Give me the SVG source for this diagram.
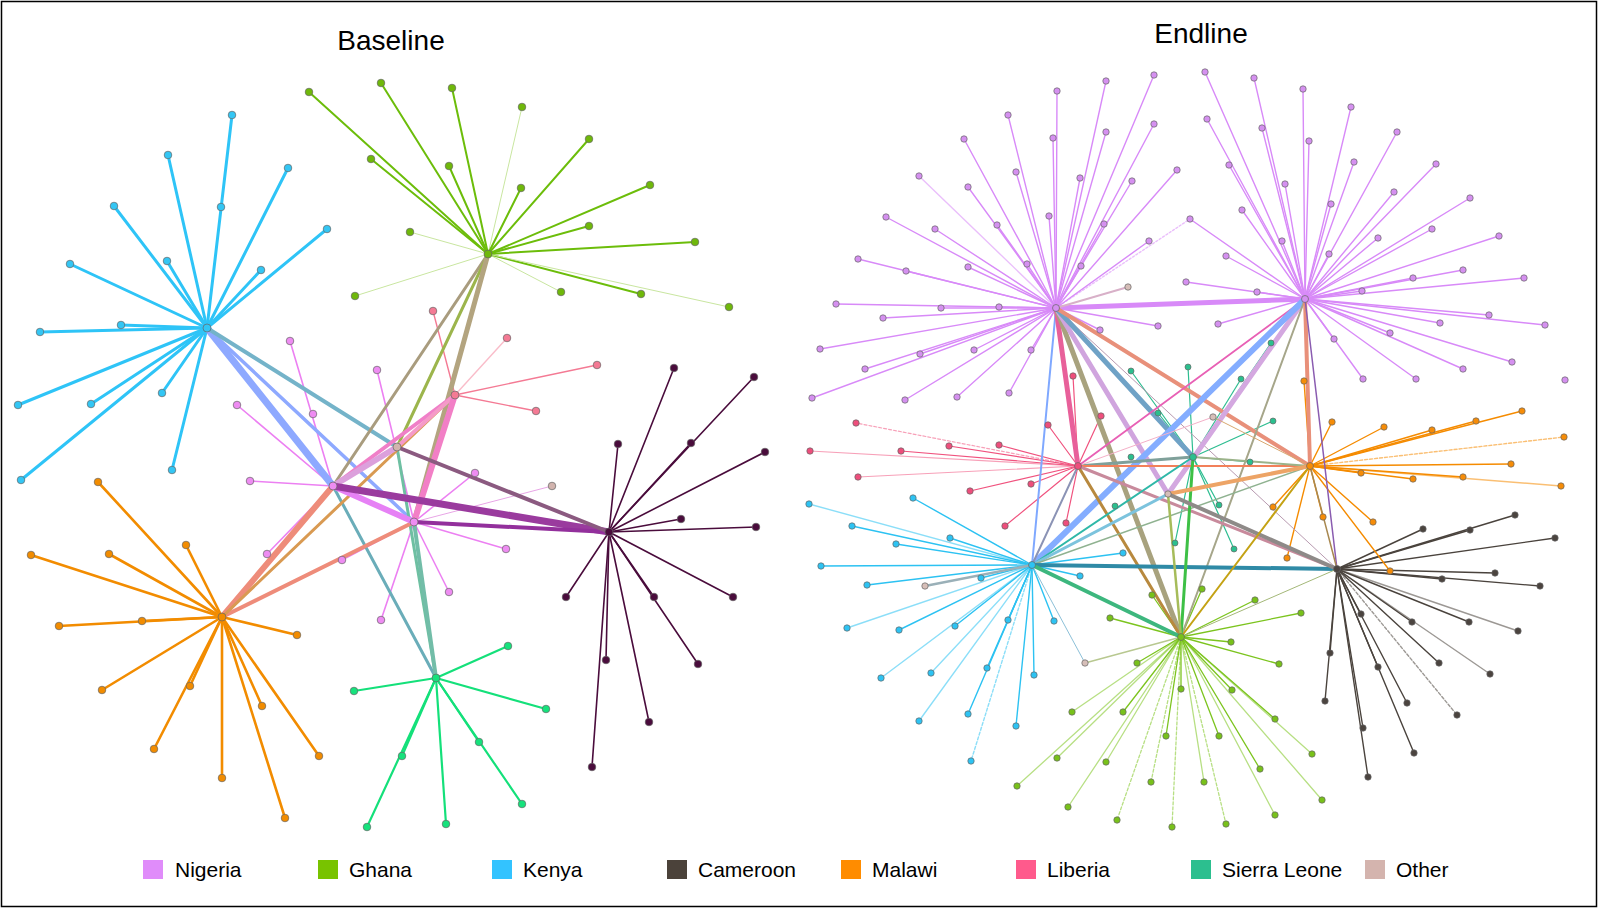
<svg xmlns="http://www.w3.org/2000/svg" width="1600" height="909" viewBox="0 0 1600 909">
<style>
text{font-family:"Liberation Sans",Arial,sans-serif;fill:#000}
.t{font-size:28px;text-anchor:middle}
.lg{font-size:21px}
line{stroke-linecap:round;fill:none}
circle{stroke:#666;stroke-width:.7}
.bk{stroke:#2EC4F7;stroke-width:3}
.bg{stroke:#6CBD0A;stroke-width:2}
.bgl{stroke:#C9E6A0;stroke-width:1}
.bn{stroke:#EC80F2;stroke-width:1.6}
.bl{stroke:#F47A94;stroke-width:1.4}
.bc{stroke:#4A0C3C;stroke-width:1.6}
.bs{stroke:#14E07A;stroke-width:2.2}
.bm{stroke:#F28C00;stroke-width:2.6}
.en{stroke:#D88AF8;stroke-width:1.4}
.eg{stroke:#7CC41E;stroke-width:1.3}
.ek{stroke:#2CC2F2;stroke-width:1.4}
.ec{stroke:#4A433D;stroke-width:1.4}
.em{stroke:#F58B00;stroke-width:1.4}
.el{stroke:#F0527E;stroke-width:1.2}
.es{stroke:#2DBD90;stroke-width:1.2}
.f{opacity:.55}
.nk{fill:#33C6F4}.ng{fill:#6FB80A}.nn{fill:#EE8CF2}.nl{fill:#F47A94}.nc{fill:#4A0C3C}.ns{fill:#16E27C}.nm{fill:#F28C00}.no{fill:#D2B4AE}
.Nn{fill:#D590F0}.Ng{fill:#78C11A}.Nk{fill:#2DC3F3}.Nc{fill:#4B443F}.Nm{fill:#F68C07}.Nl{fill:#EE4E7C}.Ns{fill:#2BBF8E}.No{fill:#D6BEB8}
</style>
<rect x="1.5" y="1.5" width="1595" height="905" fill="#fff" stroke="#000" stroke-width="1.5"/>
<text class="t" x="391" y="50">Baseline</text>
<text class="t" x="1201" y="43">Endline</text>

<g id="connectors">
<g id="baseline-edges">
<!-- Kenya leaves -->
<line class="bk" x1="207" y1="328" x2="232" y2="115"/>
<line class="bk" x1="207" y1="328" x2="168" y2="155" stroke-width="2.5"/>
<line class="bk" x1="207" y1="328" x2="288" y2="168"/>
<line class="bk" x1="207" y1="328" x2="114" y2="206"/>
<line class="bk" x1="207" y1="328" x2="327" y2="229" stroke-width="1"/>
<line class="bk" x1="207" y1="328" x2="167" y2="261" stroke-width="1"/>
<line class="bk" x1="207" y1="328" x2="261" y2="270"/>
<line class="bk" x1="207" y1="328" x2="70" y2="264"/>
<line class="bk" x1="207" y1="328" x2="121" y2="325"/>
<line class="bk" x1="207" y1="328" x2="40" y2="332" stroke-width="1"/>
<line class="bk" x1="207" y1="328" x2="18" y2="405"/>
<line class="bk" x1="207" y1="328" x2="91" y2="404" stroke-width="1"/>
<line class="bk" x1="207" y1="328" x2="162" y2="393" stroke-width="2"/>
<line class="bk" x1="207" y1="328" x2="21" y2="480"/>
<line class="bk" x1="207" y1="328" x2="172" y2="470" stroke-width="2.5"/>
<!-- Ghana leaves -->
<line class="bg" x1="488" y1="254" x2="309" y2="92" stroke-width="1.2"/>
<line class="bg" x1="488" y1="254" x2="381" y2="83" stroke-width="3"/>
<line class="bg" x1="488" y1="254" x2="452" y2="88" stroke-width="1.4"/>
<line class="bgl" x1="488" y1="254" x2="522" y2="107"/>
<line class="bg" x1="488" y1="254" x2="589" y2="139" stroke-width="1.4"/>
<line class="bg" x1="488" y1="254" x2="371" y2="159" stroke-width="3.5"/>
<line class="bg" x1="488" y1="254" x2="449" y2="166"/>
<line class="bg" x1="488" y1="254" x2="521" y2="188"/>
<line class="bg" x1="488" y1="254" x2="650" y2="185" stroke-width="1.5"/>
<line class="bg" x1="488" y1="254" x2="589" y2="226"/>
<line class="bg" x1="488" y1="254" x2="695" y2="242"/>
<line class="bgl" x1="488" y1="254" x2="410" y2="232"/>
<line class="bgl" x1="488" y1="254" x2="355" y2="296"/>
<line class="bgl" x1="488" y1="254" x2="561" y2="292"/>
<line class="bg" x1="488" y1="254" x2="641" y2="294"/>
<line class="bgl" x1="488" y1="254" x2="729" y2="307"/>
<!-- Liberia leaves -->
<line class="bl" x1="455" y1="395" x2="433" y2="311" stroke-width="1.2"/>
<line class="bl" x1="455" y1="395" x2="507" y2="338" stroke-width=".8" opacity=".5"/>
<line class="bl" x1="455" y1="395" x2="597" y2="365"/>
<line class="bl" x1="455" y1="395" x2="536" y2="411"/>
<!-- Nigeria leaves -->
<line class="bn" x1="333" y1="486" x2="290" y2="341"/>
<line class="bn" x1="333" y1="486" x2="237" y2="405" stroke-width="2"/>
<line class="bn" x1="333" y1="486" x2="250" y2="481" stroke-width="2"/>
<line class="bn" x1="333" y1="486" x2="267" y2="554"/>
<line class="bn" x1="414" y1="522" x2="377" y2="370"/>
<line class="bn" x1="414" y1="522" x2="475" y2="473" stroke-width="2"/>
<line class="bn" x1="414" y1="522" x2="506" y2="549" stroke-width="1"/>
<line class="bn" x1="414" y1="522" x2="449" y2="592" stroke-width="1.4"/>
<line class="bn" x1="414" y1="522" x2="381" y2="620" stroke-width="1.4"/>
<line class="bn" x1="414" y1="522" x2="342" y2="560"/>
<line x1="414" y1="522" x2="552" y2="486" stroke="#E8A5E6" stroke-width="1"/>
<!-- Cameroon leaves -->
<line class="bc" x1="609" y1="532" x2="674" y2="368"/>
<line class="bc" x1="609" y1="532" x2="754" y2="377" stroke-width="1"/>
<line class="bc" x1="609" y1="532" x2="691" y2="443" stroke-width="2"/>
<line class="bc" x1="609" y1="532" x2="618" y2="444"/>
<line class="bc" x1="609" y1="532" x2="765" y2="452" stroke-width="3"/>
<line class="bc" x1="609" y1="532" x2="681" y2="519" stroke-width="2"/>
<line class="bc" x1="609" y1="532" x2="756" y2="527"/>
<line class="bc" x1="609" y1="532" x2="566" y2="597" stroke-width="2"/>
<line class="bc" x1="609" y1="532" x2="654" y2="597"/>
<line class="bc" x1="609" y1="532" x2="733" y2="597" stroke-width="2"/>
<line class="bc" x1="609" y1="532" x2="606" y2="660"/>
<line class="bc" x1="609" y1="532" x2="698" y2="664"/>
<line class="bc" x1="609" y1="532" x2="649" y2="722"/>
<line class="bc" x1="609" y1="532" x2="592" y2="767"/>
<!-- Sierra Leone leaves -->
<line class="bs" x1="436" y1="678" x2="508" y2="646" stroke-width="2.5"/>
<line class="bs" x1="436" y1="678" x2="354" y2="691" stroke-width="1.5"/>
<line class="bs" x1="436" y1="678" x2="546" y2="709" stroke-width="3"/>
<line class="bs" x1="436" y1="678" x2="479" y2="742" stroke-width="2.5"/>
<line class="bs" x1="436" y1="678" x2="522" y2="804" stroke-width="1.5"/>
<line class="bs" x1="436" y1="678" x2="402" y2="756" stroke-width="2.5"/>
<line class="bs" x1="436" y1="678" x2="367" y2="827"/>
<line class="bs" x1="436" y1="678" x2="446" y2="824" stroke-width="1.5"/>
<!-- Malawi leaves -->
<line class="bm" x1="222" y1="617" x2="98" y2="482" stroke-width="3"/>
<line class="bm" x1="222" y1="617" x2="186" y2="545" stroke-width="2"/>
<line class="bm" x1="222" y1="617" x2="31" y2="555" stroke-width="3"/>
<line class="bm" x1="222" y1="617" x2="109" y2="554" stroke-width="3"/>
<line class="bm" x1="222" y1="617" x2="59" y2="626"/>
<line class="bm" x1="222" y1="617" x2="142" y2="621"/>
<line class="bm" x1="222" y1="617" x2="297" y2="635" stroke-width="3"/>
<line class="bm" x1="222" y1="617" x2="102" y2="690"/>
<line class="bm" x1="222" y1="617" x2="190" y2="686" stroke-width="3"/>
<line class="bm" x1="222" y1="617" x2="154" y2="749"/>
<line class="bm" x1="222" y1="617" x2="262" y2="706" stroke-width="2"/>
<line class="bm" x1="222" y1="617" x2="222" y2="778" stroke-width="2"/>
<line class="bm" x1="222" y1="617" x2="319" y2="756" stroke-width="3"/>
<line class="bm" x1="222" y1="617" x2="285" y2="818" stroke-width="1.5"/>
<!-- inter-country baseline -->
<line x1="207" y1="328" x2="414" y2="522" stroke="#8EA9FF" stroke-width="3.5"/>
<line x1="207" y1="328" x2="333" y2="486" stroke="#8EA9FF" stroke-width="7"/>
<line x1="207" y1="328" x2="397" y2="447" stroke="#74B3C9" stroke-width="4"/>
<line x1="333" y1="486" x2="436" y2="678" stroke="#6AADB9" stroke-width="3"/>
<line x1="397" y1="447" x2="436" y2="678" stroke="#6EC0A2" stroke-width="3"/>
<line x1="414" y1="522" x2="436" y2="678" stroke="#72BDA8" stroke-width="4"/>
<line x1="222" y1="617" x2="333" y2="486" stroke="#EE8C7A" stroke-width="6"/>
<line x1="222" y1="617" x2="414" y2="522" stroke="#EE8C7A" stroke-width="4"/>
<line x1="222" y1="617" x2="455" y2="395" stroke="#D99A52" stroke-width="3"/>
<line x1="488" y1="254" x2="333" y2="486" stroke="#A99C7E" stroke-width="3"/>
<line x1="488" y1="254" x2="397" y2="447" stroke="#9CB54C" stroke-width="3"/>
<line x1="488" y1="254" x2="414" y2="522" stroke="#B3A47F" stroke-width="5"/>
<line x1="333" y1="486" x2="455" y2="395" stroke="#F07FC8" stroke-width="4"/>
<line x1="397" y1="447" x2="455" y2="395" stroke="#F59AC8" stroke-width="4"/>
<line x1="333" y1="486" x2="397" y2="447" stroke="#DCA0DC" stroke-width="6"/>
<line x1="455" y1="395" x2="414" y2="522" stroke="#F27FC6" stroke-width="6"/>
<line x1="333" y1="486" x2="414" y2="522" stroke="#E681F5" stroke-width="6"/>
<line x1="333" y1="486" x2="609" y2="532" stroke="#9A3B9E" stroke-width="7"/>
<line x1="414" y1="522" x2="609" y2="532" stroke="#93309C" stroke-width="4"/>
<line x1="397" y1="447" x2="609" y2="532" stroke="#8B5A80" stroke-width="4"/>
</g>

<g id="endline-edges">
<!-- Nigeria A leaves -->
<line class="en" x1="1056" y1="308" x2="1154" y2="75"/>
<line class="en" x1="1056" y1="308" x2="1106" y2="81"/>
<line class="en" x1="1056" y1="308" x2="1057" y2="91"/>
<line class="en" x1="1056" y1="308" x2="1008" y2="115"/>
<line class="en" x1="1056" y1="308" x2="1154" y2="124"/>
<line class="en" x1="1056" y1="308" x2="1106" y2="132"/>
<line class="en" x1="1056" y1="308" x2="1053" y2="138"/>
<line class="en" x1="1056" y1="308" x2="964" y2="139"/>
<line class="en" x1="1056" y1="308" x2="1177" y2="170"/>
<line class="en" x1="1056" y1="308" x2="1016" y2="172"/>
<line class="en" x1="1056" y1="308" x2="1080" y2="178"/>
<line class="en" x1="1056" y1="308" x2="1132" y2="181"/>
<line class="en f" x1="1056" y1="308" x2="919" y2="176" stroke-width="1"/>
<line class="en" x1="1056" y1="308" x2="968" y2="187"/>
<line class="en" x1="1056" y1="308" x2="1049" y2="216"/>
<line class="en" x1="1056" y1="308" x2="1104" y2="224"/>
<line class="en" x1="1056" y1="308" x2="997" y2="225"/>
<line class="en" x1="1056" y1="308" x2="886" y2="217"/>
<line class="en" x1="1056" y1="308" x2="935" y2="229"/>
<line class="en" x1="1056" y1="308" x2="1149" y2="241"/>
<line class="en f" x1="1056" y1="308" x2="1190" y2="219" stroke-dasharray="2 2"/>
<line class="en" x1="1056" y1="308" x2="858" y2="259"/>
<line class="en" x1="1056" y1="308" x2="906" y2="271"/>
<line class="en" x1="1056" y1="308" x2="968" y2="267"/>
<line class="en" x1="1056" y1="308" x2="1027" y2="264"/>
<line class="en" x1="1056" y1="308" x2="1081" y2="266"/>
<line class="en" x1="1056" y1="308" x2="836" y2="304"/>
<line class="en" x1="1056" y1="308" x2="941" y2="308" stroke-width="3"/>
<line class="en" x1="1056" y1="308" x2="999" y2="307"/>
<line class="en" x1="1056" y1="308" x2="883" y2="318"/>
<line class="en" x1="1056" y1="308" x2="1158" y2="326"/>
<line class="en" x1="1056" y1="308" x2="1100" y2="330"/>
<line class="en" x1="1056" y1="308" x2="820" y2="349"/>
<line class="en" x1="1056" y1="308" x2="920" y2="354"/>
<line class="en" x1="1056" y1="308" x2="974" y2="350"/>
<line class="en" x1="1056" y1="308" x2="1031" y2="350"/>
<line class="en" x1="1056" y1="308" x2="865" y2="369"/>
<line class="en" x1="1056" y1="308" x2="812" y2="398"/>
<line class="en" x1="1056" y1="308" x2="905" y2="400"/>
<line class="en" x1="1056" y1="308" x2="957" y2="397"/>
<line class="en" x1="1056" y1="308" x2="1009" y2="393"/>
<!-- Nigeria B leaves -->
<line class="en" x1="1305" y1="299" x2="1205" y2="72"/>
<line class="en" x1="1305" y1="299" x2="1254" y2="78"/>
<line class="en" x1="1305" y1="299" x2="1303" y2="89"/>
<line class="en" x1="1305" y1="299" x2="1351" y2="107"/>
<line class="en" x1="1305" y1="299" x2="1397" y2="132"/>
<line class="en" x1="1305" y1="299" x2="1207" y2="119"/>
<line class="en" x1="1305" y1="299" x2="1262" y2="128"/>
<line class="en" x1="1305" y1="299" x2="1309" y2="141"/>
<line class="en" x1="1305" y1="299" x2="1354" y2="162"/>
<line class="en" x1="1305" y1="299" x2="1436" y2="164"/>
<line class="en" x1="1305" y1="299" x2="1229" y2="165"/>
<line class="en" x1="1305" y1="299" x2="1285" y2="184"/>
<line class="en" x1="1305" y1="299" x2="1394" y2="192"/>
<line class="en" x1="1305" y1="299" x2="1470" y2="198"/>
<line class="en" x1="1305" y1="299" x2="1331" y2="204"/>
<line class="en" x1="1305" y1="299" x2="1242" y2="210"/>
<line class="en" x1="1305" y1="299" x2="1190" y2="219"/>
<line class="en" x1="1305" y1="299" x2="1432" y2="229"/>
<line class="en" x1="1305" y1="299" x2="1378" y2="238"/>
<line class="en" x1="1305" y1="299" x2="1499" y2="236"/>
<line class="en" x1="1305" y1="299" x2="1282" y2="241"/>
<line class="en" x1="1305" y1="299" x2="1329" y2="254"/>
<line class="en" x1="1305" y1="299" x2="1226" y2="256"/>
<line class="en" x1="1305" y1="299" x2="1463" y2="270"/>
<line class="en" x1="1305" y1="299" x2="1413" y2="278" stroke-width="2"/>
<line class="en" x1="1305" y1="299" x2="1524" y2="278"/>
<line class="en" x1="1305" y1="299" x2="1186" y2="282"/>
<line class="en" x1="1305" y1="299" x2="1257" y2="292"/>
<line class="en" x1="1305" y1="299" x2="1362" y2="291"/>
<line class="en" x1="1305" y1="299" x2="1489" y2="315"/>
<line class="en" x1="1305" y1="299" x2="1440" y2="323"/>
<line class="en" x1="1305" y1="299" x2="1545" y2="325"/>
<line class="en" x1="1305" y1="299" x2="1390" y2="333"/>
<line class="en" x1="1305" y1="299" x2="1218" y2="324"/>
<line class="en" x1="1305" y1="299" x2="1334" y2="339"/>
<line class="en" x1="1305" y1="299" x2="1512" y2="362"/>
<line class="en" x1="1305" y1="299" x2="1463" y2="369"/>
<line class="en" x1="1305" y1="299" x2="1363" y2="379"/>
<line class="en" x1="1305" y1="299" x2="1416" y2="379"/>
<!-- Liberia leaves -->
<line class="el" x1="1078" y1="466" x2="1073" y2="376" stroke-width="2"/>
<line class="el" x1="1078" y1="466" x2="1101" y2="416" stroke-width="2"/>
<line class="el" x1="1078" y1="466" x2="1048" y2="425" stroke-width="2"/>
<line class="el f" x1="1078" y1="466" x2="856" y2="423" stroke-dasharray="3 2"/>
<line class="el f" x1="1078" y1="466" x2="810" y2="451"/>
<line class="el" x1="1078" y1="466" x2="901" y2="451"/>
<line class="el" x1="1078" y1="466" x2="949" y2="446"/>
<line class="el" x1="1078" y1="466" x2="999" y2="445"/>
<line class="el f" x1="1078" y1="466" x2="858" y2="477"/>
<line class="el" x1="1078" y1="466" x2="1031" y2="484"/>
<line class="el" x1="1078" y1="466" x2="970" y2="491"/>
<line class="el" x1="1078" y1="466" x2="1005" y2="526" stroke-width="2"/>
<line class="el" x1="1078" y1="466" x2="1066" y2="523" stroke-width="2"/>
<!-- Kenya leaves -->
<line class="ek" x1="1032" y1="565" x2="913" y2="498" stroke-width="2.2"/>
<line class="ek f" x1="1032" y1="565" x2="809" y2="504"/>
<line class="ek" x1="1032" y1="565" x2="852" y2="526" stroke-width="2"/>
<line class="ek" x1="1032" y1="565" x2="950" y2="538"/>
<line class="ek" x1="1032" y1="565" x2="896" y2="544" stroke-width="2"/>
<line class="ek" x1="1032" y1="565" x2="1123" y2="553" stroke-width="2.5"/>
<line class="ek" x1="1032" y1="565" x2="821" y2="566"/>
<line class="ek" x1="1032" y1="565" x2="1080" y2="576" stroke-width="2"/>
<line class="ek" x1="1032" y1="565" x2="867" y2="585"/>
<line class="ek" x1="1032" y1="565" x2="981" y2="578"/>
<line class="ek f" x1="1032" y1="565" x2="847" y2="628"/>
<line class="ek" x1="1032" y1="565" x2="899" y2="630"/>
<line class="ek" x1="1032" y1="565" x2="955" y2="626" stroke-width="2"/>
<line class="ek" x1="1032" y1="565" x2="1008" y2="620"/>
<line class="ek" x1="1032" y1="565" x2="1054" y2="621" stroke-width="2"/>
<line class="ek f" x1="1032" y1="565" x2="881" y2="678"/>
<line class="ek f" x1="1032" y1="565" x2="931" y2="673"/>
<line class="ek" x1="1032" y1="565" x2="987" y2="668" stroke-width="2"/>
<line class="ek" x1="1032" y1="565" x2="1034" y2="675" stroke-width="2"/>
<line class="ek" x1="1032" y1="565" x2="968" y2="714" stroke-width="2"/>
<line class="ek" x1="1032" y1="565" x2="1016" y2="726" stroke-width="2"/>
<line class="ek f" x1="1032" y1="565" x2="971" y2="761" stroke-dasharray="3 2"/>
<line class="ek f" x1="1032" y1="565" x2="919" y2="721"/>
<!-- Ghana leaves -->
<line class="eg" x1="1181" y1="637" x2="1152" y2="595" stroke-width="2"/>
<line class="eg" x1="1181" y1="637" x2="1202" y2="589" stroke-width="2"/>
<line class="eg" x1="1181" y1="637" x2="1110" y2="618" stroke-width="2"/>
<line class="eg" x1="1181" y1="637" x2="1255" y2="600" stroke-width="2"/>
<line class="eg" x1="1181" y1="637" x2="1301" y2="613" stroke-width="2"/>
<line class="eg" x1="1181" y1="637" x2="1231" y2="642"/>
<line class="eg" x1="1181" y1="637" x2="1279" y2="664"/>
<line class="eg" x1="1181" y1="637" x2="1137" y2="663"/>
<line class="eg" x1="1181" y1="637" x2="1181" y2="689"/>
<line class="eg" x1="1181" y1="637" x2="1232" y2="690"/>
<line class="eg f" x1="1181" y1="637" x2="1072" y2="712"/>
<line class="eg" x1="1181" y1="637" x2="1123" y2="712"/>
<line class="eg" x1="1181" y1="637" x2="1275" y2="719" stroke-width="2"/>
<line class="eg" x1="1181" y1="637" x2="1166" y2="736"/>
<line class="eg" x1="1181" y1="637" x2="1219" y2="736"/>
<line class="eg f" x1="1181" y1="637" x2="1312" y2="754"/>
<line class="eg f" x1="1181" y1="637" x2="1057" y2="758"/>
<line class="eg f" x1="1181" y1="637" x2="1106" y2="762"/>
<line class="eg" x1="1181" y1="637" x2="1260" y2="769"/>
<line class="eg f" x1="1181" y1="637" x2="1017" y2="786"/>
<line class="eg f" x1="1181" y1="637" x2="1151" y2="782" stroke-dasharray="3 2"/>
<line class="eg f" x1="1181" y1="637" x2="1204" y2="782"/>
<line class="eg f" x1="1181" y1="637" x2="1322" y2="800"/>
<line class="eg f" x1="1181" y1="637" x2="1068" y2="807"/>
<line class="eg f" x1="1181" y1="637" x2="1275" y2="815"/>
<line class="eg f" x1="1181" y1="637" x2="1117" y2="820" stroke-dasharray="3 2"/>
<line class="eg f" x1="1181" y1="637" x2="1172" y2="827" stroke-dasharray="3 2"/>
<line class="eg f" x1="1181" y1="637" x2="1226" y2="824" stroke-dasharray="3 2"/>
<!-- Cameroon leaves -->
<line class="ec" x1="1337" y1="569" x2="1423" y2="529" stroke-width="2"/>
<line class="ec" x1="1337" y1="569" x2="1470" y2="530" stroke-width="2"/>
<line class="ec" x1="1337" y1="569" x2="1515" y2="515" stroke-width="2"/>
<line class="ec" x1="1337" y1="569" x2="1555" y2="538"/>
<line class="ec" x1="1337" y1="569" x2="1442" y2="579" stroke-width="2"/>
<line class="ec" x1="1337" y1="569" x2="1495" y2="573"/>
<line class="ec" x1="1337" y1="569" x2="1540" y2="586"/>
<line class="ec" x1="1337" y1="569" x2="1361" y2="614"/>
<line class="ec" x1="1337" y1="569" x2="1412" y2="622" stroke-width="2"/>
<line class="ec" x1="1337" y1="569" x2="1469" y2="622"/>
<line class="ec f" x1="1337" y1="569" x2="1518" y2="631"/>
<line class="ec" x1="1337" y1="569" x2="1439" y2="663" stroke-width="2"/>
<line class="ec f" x1="1337" y1="569" x2="1490" y2="674"/>
<line class="ec" x1="1337" y1="569" x2="1330" y2="653"/>
<line class="ec" x1="1337" y1="569" x2="1325" y2="701" stroke-width="2"/>
<line class="ec" x1="1337" y1="569" x2="1378" y2="667"/>
<line class="ec" x1="1337" y1="569" x2="1407" y2="703"/>
<line class="ec f" x1="1337" y1="569" x2="1457" y2="715" stroke-dasharray="3 2"/>
<line class="ec" x1="1337" y1="569" x2="1363" y2="728" stroke-width="2"/>
<line class="ec" x1="1337" y1="569" x2="1414" y2="753"/>
<line class="ec" x1="1337" y1="569" x2="1368" y2="777"/>
<!-- Malawi leaves -->
<line class="em" x1="1310" y1="466" x2="1304" y2="381" stroke-width="2"/>
<line class="em" x1="1310" y1="466" x2="1332" y2="422" stroke-width="2"/>
<line class="em" x1="1310" y1="466" x2="1384" y2="427" stroke-width="2"/>
<line class="em" x1="1310" y1="466" x2="1432" y2="430" stroke-width="2.5"/>
<line class="em" x1="1310" y1="466" x2="1476" y2="421" stroke-width="2"/>
<line class="em" x1="1310" y1="466" x2="1522" y2="411"/>
<line class="em f" x1="1310" y1="466" x2="1564" y2="437" stroke-dasharray="3 2"/>
<line class="em" x1="1310" y1="466" x2="1511" y2="464" stroke-width="2"/>
<line class="em" x1="1310" y1="466" x2="1361" y2="473"/>
<line class="em" x1="1310" y1="466" x2="1413" y2="479"/>
<line class="em" x1="1310" y1="466" x2="1463" y2="477"/>
<line class="em f" x1="1310" y1="466" x2="1561" y2="486"/>
<line class="em" x1="1310" y1="466" x2="1373" y2="522"/>
<line class="em" x1="1310" y1="466" x2="1273" y2="507" stroke-width="2"/>
<line class="em" x1="1310" y1="466" x2="1287" y2="558" stroke-width="2"/>
<line class="em" x1="1310" y1="466" x2="1323" y2="517"/>
<line class="em" x1="1310" y1="466" x2="1390" y2="571" stroke-width="2"/>
<!-- Sierra Leone leaves -->
<line class="es" x1="1193" y1="457" x2="1188" y2="367"/>
<line class="es" x1="1193" y1="457" x2="1241" y2="379"/>
<line class="es" x1="1193" y1="457" x2="1273" y2="421" stroke-width="2"/>
<line class="es" x1="1193" y1="457" x2="1250" y2="462"/>
<line class="es" x1="1193" y1="457" x2="1219" y2="505"/>
<line class="es" x1="1193" y1="457" x2="1234" y2="549"/>
<line class="es" x1="1193" y1="457" x2="1175" y2="543"/>
<line class="es" x1="1193" y1="457" x2="1158" y2="413"/>
<line class="es" x1="1193" y1="457" x2="1131" y2="371"/>
<line class="es" x1="1193" y1="457" x2="1271" y2="343"/>
<!-- inter-country endline -->
<line x1="1056" y1="308" x2="1305" y2="299" stroke="#D88AF8" stroke-width="5"/>
<line x1="1056" y1="308" x2="1128" y2="287" stroke="#D8B0C8" stroke-width="2"/>
<line x1="1056" y1="308" x2="1337" y2="569" stroke="#B89AB0" stroke-width="1"/>
<line x1="1056" y1="308" x2="1032" y2="565" stroke="#7FA8FF" stroke-width="2"/>
<line x1="1056" y1="308" x2="1078" y2="466" stroke="#E8609A" stroke-width="5"/>
<line x1="1056" y1="308" x2="1181" y2="637" stroke="#A8A27E" stroke-width="5"/>
<line x1="1056" y1="308" x2="1168" y2="494" stroke="#D0A4DE" stroke-width="5"/>
<line x1="1056" y1="308" x2="1193" y2="457" stroke="#6FA2C6" stroke-width="5"/>
<line x1="1056" y1="308" x2="1310" y2="466" stroke="#E8907A" stroke-width="4"/>
<line x1="1305" y1="299" x2="1078" y2="466" stroke="#E860B5" stroke-width="1.8"/>
<line x1="1305" y1="299" x2="1168" y2="494" stroke="#D4A8E0" stroke-width="5"/>
<line x1="1305" y1="299" x2="1032" y2="565" stroke="#84ADFF" stroke-width="6"/>
<line x1="1305" y1="299" x2="1181" y2="637" stroke="#A6A68A" stroke-width="2"/>
<line x1="1305" y1="299" x2="1310" y2="466" stroke="#E8907A" stroke-width="4"/>
<line x1="1305" y1="299" x2="1337" y2="569" stroke="#8A5CB0" stroke-width="1.5"/>
<line x1="1078" y1="466" x2="1193" y2="457" stroke="#7FA09A" stroke-width="3"/>
<line x1="1078" y1="466" x2="1310" y2="466" stroke="#F2805A" stroke-width="2"/>
<line x1="1078" y1="466" x2="1337" y2="569" stroke="#C88A9C" stroke-width="3"/>
<line x1="1078" y1="466" x2="1181" y2="637" stroke="#B8893E" stroke-width="3"/>
<line x1="1078" y1="466" x2="1032" y2="565" stroke="#8B93B5" stroke-width="2"/>
<line x1="1078" y1="466" x2="1213" y2="417" stroke="#F4B0C8" stroke-width="1"/>
<line x1="1213" y1="417" x2="1310" y2="466" stroke="#D8A870" stroke-width="1"/>
<line x1="1032" y1="565" x2="1193" y2="457" stroke="#2FB8A8" stroke-width="2"/>
<line x1="1032" y1="565" x2="1168" y2="494" stroke="#7CC3DD" stroke-width="3"/>
<line x1="1032" y1="565" x2="1310" y2="466" stroke="#8FB290" stroke-width="1.5"/>
<line x1="1032" y1="565" x2="1337" y2="569" stroke="#2F8AA6" stroke-width="4"/>
<line x1="1032" y1="565" x2="1181" y2="637" stroke="#3DB77E" stroke-width="4"/>
<line x1="1032" y1="565" x2="925" y2="586" stroke="#9AB0B8" stroke-width="2.5"/>
<line x1="1032" y1="565" x2="1085" y2="663" stroke="#8CC0D8" stroke-width="1"/>
<line x1="1085" y1="663" x2="1181" y2="637" stroke="#B8C890" stroke-width="1.5"/>
<line x1="1193" y1="457" x2="1181" y2="637" stroke="#3EC046" stroke-width="3"/>
<line x1="1193" y1="457" x2="1310" y2="466" stroke="#9BB38A" stroke-width="2"/>
<line x1="1168" y1="494" x2="1310" y2="466" stroke="#EDA466" stroke-width="4"/>
<line x1="1168" y1="494" x2="1181" y2="637" stroke="#A6BC5A" stroke-width="2.5"/>
<line x1="1168" y1="494" x2="1337" y2="569" stroke="#8E8A88" stroke-width="4"/>
<line x1="1310" y1="466" x2="1181" y2="637" stroke="#C4A214" stroke-width="2"/>
<line x1="1310" y1="466" x2="1337" y2="569" stroke="#A88850" stroke-width="1.5"/>
<line x1="1337" y1="569" x2="1181" y2="637" stroke="#A4B878" stroke-width="1"/>
</g>
</g>

<g id="baseline-nodes">
<g id="b-kenya"><circle class="nk" cx="207" cy="328" r="4"/></g>
<g id="b-k1"><circle class="nk" cx="232" cy="115" r="3.8"/></g>
<g id="b-k2"><circle class="nk" cx="221" cy="207" r="3.8"/></g>
<g id="b-k3"><circle class="nk" cx="168" cy="155" r="3.8"/></g>
<g id="b-k4"><circle class="nk" cx="288" cy="168" r="3.8"/></g>
<g id="b-k5"><circle class="nk" cx="114" cy="206" r="3.8"/></g>
<g id="b-k6"><circle class="nk" cx="327" cy="229" r="3.8"/></g>
<g id="b-k7"><circle class="nk" cx="167" cy="261" r="3.8"/></g>
<g id="b-k8"><circle class="nk" cx="261" cy="270" r="3.8"/></g>
<g id="b-k9"><circle class="nk" cx="70" cy="264" r="3.8"/></g>
<g id="b-k10"><circle class="nk" cx="121" cy="325" r="3.8"/></g>
<g id="b-k11"><circle class="nk" cx="40" cy="332" r="3.8"/></g>
<g id="b-k12"><circle class="nk" cx="18" cy="405" r="3.8"/></g>
<g id="b-k13"><circle class="nk" cx="91" cy="404" r="3.8"/></g>
<g id="b-k14"><circle class="nk" cx="162" cy="393" r="3.8"/></g>
<g id="b-k15"><circle class="nk" cx="21" cy="480" r="3.8"/></g>
<g id="b-k16"><circle class="nk" cx="172" cy="470" r="3.8"/></g>
<g id="b-ghana"><circle class="ng" cx="488" cy="254" r="4"/></g>
<g id="b-g1"><circle class="ng" cx="309" cy="92" r="3.8"/></g>
<g id="b-g2"><circle class="ng" cx="381" cy="83" r="3.8"/></g>
<g id="b-g3"><circle class="ng" cx="452" cy="88" r="3.8"/></g>
<g id="b-g4"><circle class="ng" cx="522" cy="107" r="3.8"/></g>
<g id="b-g5"><circle class="ng" cx="589" cy="139" r="3.8"/></g>
<g id="b-g6"><circle class="ng" cx="371" cy="159" r="3.8"/></g>
<g id="b-g7"><circle class="ng" cx="449" cy="166" r="3.8"/></g>
<g id="b-g8"><circle class="ng" cx="521" cy="188" r="3.8"/></g>
<g id="b-g9"><circle class="ng" cx="650" cy="185" r="3.8"/></g>
<g id="b-g10"><circle class="ng" cx="589" cy="226" r="3.8"/></g>
<g id="b-g11"><circle class="ng" cx="695" cy="242" r="3.8"/></g>
<g id="b-g12"><circle class="ng" cx="410" cy="232" r="3.8"/></g>
<g id="b-g13"><circle class="ng" cx="355" cy="296" r="3.8"/></g>
<g id="b-g14"><circle class="ng" cx="561" cy="292" r="3.8"/></g>
<g id="b-g15"><circle class="ng" cx="641" cy="294" r="3.8"/></g>
<g id="b-g16"><circle class="ng" cx="729" cy="307" r="3.8"/></g>
<g id="b-liberia"><circle class="nl" cx="455" cy="395" r="4"/></g>
<g id="b-l1"><circle class="nl" cx="433" cy="311" r="3.8"/></g>
<g id="b-l2"><circle class="nl" cx="507" cy="338" r="3.8"/></g>
<g id="b-l3"><circle class="nl" cx="597" cy="365" r="3.8"/></g>
<g id="b-l4"><circle class="nl" cx="536" cy="411" r="3.8"/></g>
<g id="b-other1"><circle class="no" cx="397" cy="447" r="4"/></g>
<g id="b-other2"><circle class="no" cx="552" cy="486" r="3.8"/></g>
<g id="b-nigeria1"><circle class="nn" cx="333" cy="486" r="4"/></g>
<g id="b-nigeria2"><circle class="nn" cx="414" cy="522" r="4"/></g>
<g id="b-n1"><circle class="nn" cx="290" cy="341" r="3.8"/></g>
<g id="b-n2"><circle class="nn" cx="313" cy="414" r="3.8"/></g>
<g id="b-n3"><circle class="nn" cx="237" cy="405" r="3.8"/></g>
<g id="b-n4"><circle class="nn" cx="250" cy="481" r="3.8"/></g>
<g id="b-n5"><circle class="nn" cx="267" cy="554" r="3.8"/></g>
<g id="b-n6"><circle class="nn" cx="377" cy="370" r="3.8"/></g>
<g id="b-n7"><circle class="nn" cx="475" cy="473" r="3.8"/></g>
<g id="b-n8"><circle class="nn" cx="506" cy="549" r="3.8"/></g>
<g id="b-n9"><circle class="nn" cx="449" cy="592" r="3.8"/></g>
<g id="b-n10"><circle class="nn" cx="381" cy="620" r="3.8"/></g>
<g id="b-n11"><circle class="nn" cx="342" cy="560" r="3.8"/></g>
<g id="b-cameroon"><circle class="nc" cx="609" cy="532" r="4"/></g>
<g id="b-c1"><circle class="nc" cx="674" cy="368" r="3.8"/></g>
<g id="b-c2"><circle class="nc" cx="754" cy="377" r="3.8"/></g>
<g id="b-c3"><circle class="nc" cx="691" cy="443" r="3.8"/></g>
<g id="b-c4"><circle class="nc" cx="618" cy="444" r="3.8"/></g>
<g id="b-c5"><circle class="nc" cx="765" cy="452" r="3.8"/></g>
<g id="b-c6"><circle class="nc" cx="681" cy="519" r="3.8"/></g>
<g id="b-c7"><circle class="nc" cx="756" cy="527" r="3.8"/></g>
<g id="b-c8"><circle class="nc" cx="566" cy="597" r="3.8"/></g>
<g id="b-c9"><circle class="nc" cx="654" cy="597" r="3.8"/></g>
<g id="b-c10"><circle class="nc" cx="733" cy="597" r="3.8"/></g>
<g id="b-c11"><circle class="nc" cx="606" cy="660" r="3.8"/></g>
<g id="b-c12"><circle class="nc" cx="698" cy="664" r="3.8"/></g>
<g id="b-c13"><circle class="nc" cx="649" cy="722" r="3.8"/></g>
<g id="b-c14"><circle class="nc" cx="592" cy="767" r="3.8"/></g>
<g id="b-sierra"><circle class="ns" cx="436" cy="678" r="4"/></g>
<g id="b-s1"><circle class="ns" cx="508" cy="646" r="3.8"/></g>
<g id="b-s2"><circle class="ns" cx="354" cy="691" r="3.8"/></g>
<g id="b-s3"><circle class="ns" cx="546" cy="709" r="3.8"/></g>
<g id="b-s4"><circle class="ns" cx="479" cy="742" r="3.8"/></g>
<g id="b-s5"><circle class="ns" cx="522" cy="804" r="3.8"/></g>
<g id="b-s6"><circle class="ns" cx="402" cy="756" r="3.8"/></g>
<g id="b-s7"><circle class="ns" cx="367" cy="827" r="3.8"/></g>
<g id="b-s8"><circle class="ns" cx="446" cy="824" r="3.8"/></g>
<g id="b-malawi"><circle class="nm" cx="222" cy="617" r="4"/></g>
<g id="b-m1"><circle class="nm" cx="98" cy="482" r="3.8"/></g>
<g id="b-m2"><circle class="nm" cx="186" cy="545" r="3.8"/></g>
<g id="b-m3"><circle class="nm" cx="31" cy="555" r="3.8"/></g>
<g id="b-m4"><circle class="nm" cx="109" cy="554" r="3.8"/></g>
<g id="b-m5"><circle class="nm" cx="59" cy="626" r="3.8"/></g>
<g id="b-m6"><circle class="nm" cx="142" cy="621" r="3.8"/></g>
<g id="b-m7"><circle class="nm" cx="297" cy="635" r="3.8"/></g>
<g id="b-m8"><circle class="nm" cx="102" cy="690" r="3.8"/></g>
<g id="b-m9"><circle class="nm" cx="190" cy="686" r="3.8"/></g>
<g id="b-m10"><circle class="nm" cx="154" cy="749" r="3.8"/></g>
<g id="b-m11"><circle class="nm" cx="262" cy="706" r="3.8"/></g>
<g id="b-m12"><circle class="nm" cx="222" cy="778" r="3.8"/></g>
<g id="b-m13"><circle class="nm" cx="319" cy="756" r="3.8"/></g>
<g id="b-m14"><circle class="nm" cx="285" cy="818" r="3.8"/></g>
</g>

<g id="endline-nodes">
<g id="e-nigA"><circle class="Nn" cx="1056" cy="308" r="3.5"/></g>
<g id="e-nigB"><circle class="Nn" cx="1305" cy="299" r="3.5"/></g>
<g id="e-na1"><circle class="Nn" cx="1154" cy="75" r="3.2"/></g>
<g id="e-na2"><circle class="Nn" cx="1106" cy="81" r="3.2"/></g>
<g id="e-na3"><circle class="Nn" cx="1057" cy="91" r="3.2"/></g>
<g id="e-na4"><circle class="Nn" cx="1008" cy="115" r="3.2"/></g>
<g id="e-na5"><circle class="Nn" cx="1154" cy="124" r="3.2"/></g>
<g id="e-na6"><circle class="Nn" cx="1106" cy="132" r="3.2"/></g>
<g id="e-na7"><circle class="Nn" cx="1053" cy="138" r="3.2"/></g>
<g id="e-na8"><circle class="Nn" cx="964" cy="139" r="3.2"/></g>
<g id="e-na9"><circle class="Nn" cx="1177" cy="170" r="3.2"/></g>
<g id="e-na10"><circle class="Nn" cx="1016" cy="172" r="3.2"/></g>
<g id="e-na11"><circle class="Nn" cx="1080" cy="178" r="3.2"/></g>
<g id="e-na12"><circle class="Nn" cx="1132" cy="181" r="3.2"/></g>
<g id="e-na13"><circle class="Nn" cx="919" cy="176" r="3.2"/></g>
<g id="e-na14"><circle class="Nn" cx="968" cy="187" r="3.2"/></g>
<g id="e-na15"><circle class="Nn" cx="1049" cy="216" r="3.2"/></g>
<g id="e-na16"><circle class="Nn" cx="1104" cy="224" r="3.2"/></g>
<g id="e-na17"><circle class="Nn" cx="997" cy="225" r="3.2"/></g>
<g id="e-na18"><circle class="Nn" cx="886" cy="217" r="3.2"/></g>
<g id="e-na19"><circle class="Nn" cx="935" cy="229" r="3.2"/></g>
<g id="e-na20"><circle class="Nn" cx="1149" cy="241" r="3.2"/></g>
<g id="e-na21"><circle class="Nn" cx="858" cy="259" r="3.2"/></g>
<g id="e-na22"><circle class="Nn" cx="906" cy="271" r="3.2"/></g>
<g id="e-na23"><circle class="Nn" cx="968" cy="267" r="3.2"/></g>
<g id="e-na24"><circle class="Nn" cx="1027" cy="264" r="3.2"/></g>
<g id="e-na25"><circle class="Nn" cx="1081" cy="266" r="3.2"/></g>
<g id="e-na26"><circle class="Nn" cx="836" cy="304" r="3.2"/></g>
<g id="e-na27"><circle class="Nn" cx="941" cy="308" r="3.2"/></g>
<g id="e-na28"><circle class="Nn" cx="999" cy="307" r="3.2"/></g>
<g id="e-na29"><circle class="Nn" cx="883" cy="318" r="3.2"/></g>
<g id="e-na30"><circle class="Nn" cx="1158" cy="326" r="3.2"/></g>
<g id="e-na31"><circle class="Nn" cx="1100" cy="330" r="3.2"/></g>
<g id="e-na32"><circle class="Nn" cx="820" cy="349" r="3.2"/></g>
<g id="e-na33"><circle class="Nn" cx="920" cy="354" r="3.2"/></g>
<g id="e-na34"><circle class="Nn" cx="974" cy="350" r="3.2"/></g>
<g id="e-na35"><circle class="Nn" cx="1031" cy="350" r="3.2"/></g>
<g id="e-na36"><circle class="Nn" cx="865" cy="369" r="3.2"/></g>
<g id="e-na37"><circle class="Nn" cx="812" cy="398" r="3.2"/></g>
<g id="e-na38"><circle class="Nn" cx="905" cy="400" r="3.2"/></g>
<g id="e-na39"><circle class="Nn" cx="957" cy="397" r="3.2"/></g>
<g id="e-na40"><circle class="Nn" cx="1009" cy="393" r="3.2"/></g>
<g id="e-nb1"><circle class="Nn" cx="1205" cy="72" r="3.2"/></g>
<g id="e-nb2"><circle class="Nn" cx="1254" cy="78" r="3.2"/></g>
<g id="e-nb3"><circle class="Nn" cx="1303" cy="89" r="3.2"/></g>
<g id="e-nb4"><circle class="Nn" cx="1351" cy="107" r="3.2"/></g>
<g id="e-nb5"><circle class="Nn" cx="1397" cy="132" r="3.2"/></g>
<g id="e-nb6"><circle class="Nn" cx="1207" cy="119" r="3.2"/></g>
<g id="e-nb7"><circle class="Nn" cx="1262" cy="128" r="3.2"/></g>
<g id="e-nb8"><circle class="Nn" cx="1309" cy="141" r="3.2"/></g>
<g id="e-nb9"><circle class="Nn" cx="1354" cy="162" r="3.2"/></g>
<g id="e-nb10"><circle class="Nn" cx="1436" cy="164" r="3.2"/></g>
<g id="e-nb11"><circle class="Nn" cx="1229" cy="165" r="3.2"/></g>
<g id="e-nb12"><circle class="Nn" cx="1285" cy="184" r="3.2"/></g>
<g id="e-nb13"><circle class="Nn" cx="1394" cy="192" r="3.2"/></g>
<g id="e-nb14"><circle class="Nn" cx="1470" cy="198" r="3.2"/></g>
<g id="e-nb15"><circle class="Nn" cx="1331" cy="204" r="3.2"/></g>
<g id="e-nb16"><circle class="Nn" cx="1242" cy="210" r="3.2"/></g>
<g id="e-nb17"><circle class="Nn" cx="1190" cy="219" r="3.2"/></g>
<g id="e-nb18"><circle class="Nn" cx="1432" cy="229" r="3.2"/></g>
<g id="e-nb19"><circle class="Nn" cx="1378" cy="238" r="3.2"/></g>
<g id="e-nb20"><circle class="Nn" cx="1499" cy="236" r="3.2"/></g>
<g id="e-nb21"><circle class="Nn" cx="1282" cy="241" r="3.2"/></g>
<g id="e-nb22"><circle class="Nn" cx="1329" cy="254" r="3.2"/></g>
<g id="e-nb23"><circle class="Nn" cx="1226" cy="256" r="3.2"/></g>
<g id="e-nb24"><circle class="Nn" cx="1463" cy="270" r="3.2"/></g>
<g id="e-nb25"><circle class="Nn" cx="1413" cy="278" r="3.2"/></g>
<g id="e-nb26"><circle class="Nn" cx="1524" cy="278" r="3.2"/></g>
<g id="e-nb27"><circle class="Nn" cx="1186" cy="282" r="3.2"/></g>
<g id="e-nb28"><circle class="Nn" cx="1257" cy="292" r="3.2"/></g>
<g id="e-nb29"><circle class="Nn" cx="1362" cy="291" r="3.2"/></g>
<g id="e-nb30"><circle class="Nn" cx="1489" cy="315" r="3.2"/></g>
<g id="e-nb31"><circle class="Nn" cx="1440" cy="323" r="3.2"/></g>
<g id="e-nb32"><circle class="Nn" cx="1545" cy="325" r="3.2"/></g>
<g id="e-nb33"><circle class="Nn" cx="1390" cy="333" r="3.2"/></g>
<g id="e-nb34"><circle class="Nn" cx="1218" cy="324" r="3.2"/></g>
<g id="e-nb35"><circle class="Nn" cx="1334" cy="339" r="3.2"/></g>
<g id="e-nb36"><circle class="Nn" cx="1512" cy="362" r="3.2"/></g>
<g id="e-nb37"><circle class="Nn" cx="1463" cy="369" r="3.2"/></g>
<g id="e-nb38"><circle class="Nn" cx="1363" cy="379" r="3.2"/></g>
<g id="e-nb39"><circle class="Nn" cx="1416" cy="379" r="3.2"/></g>
<g id="e-nb40"><circle class="Nn" cx="1565" cy="380" r="3.2"/></g>
<g id="e-liberia"><circle class="Nl" cx="1078" cy="466" r="3.5"/></g>
<g id="e-l1"><circle class="Nl" cx="1073" cy="376" r="3.2"/></g>
<g id="e-l2"><circle class="Nl" cx="1101" cy="416" r="3.2"/></g>
<g id="e-l3"><circle class="Nl" cx="1048" cy="425" r="3.2"/></g>
<g id="e-l4"><circle class="Nl" cx="856" cy="423" r="3.2"/></g>
<g id="e-l5"><circle class="Nl" cx="810" cy="451" r="3.2"/></g>
<g id="e-l6"><circle class="Nl" cx="901" cy="451" r="3.2"/></g>
<g id="e-l7"><circle class="Nl" cx="949" cy="446" r="3.2"/></g>
<g id="e-l8"><circle class="Nl" cx="999" cy="445" r="3.2"/></g>
<g id="e-l9"><circle class="Nl" cx="858" cy="477" r="3.2"/></g>
<g id="e-l10"><circle class="Nl" cx="1031" cy="484" r="3.2"/></g>
<g id="e-l11"><circle class="Nl" cx="970" cy="491" r="3.2"/></g>
<g id="e-l12"><circle class="Nl" cx="1005" cy="526" r="3.2"/></g>
<g id="e-l13"><circle class="Nl" cx="1066" cy="523" r="3.2"/></g>
<g id="e-kenya"><circle class="Nk" cx="1032" cy="565" r="3.5"/></g>
<g id="e-k1"><circle class="Nk" cx="913" cy="498" r="3.2"/></g>
<g id="e-k2"><circle class="Nk" cx="809" cy="504" r="3.2"/></g>
<g id="e-k3"><circle class="Nk" cx="852" cy="526" r="3.2"/></g>
<g id="e-k4"><circle class="Nk" cx="950" cy="538" r="3.2"/></g>
<g id="e-k5"><circle class="Nk" cx="896" cy="544" r="3.2"/></g>
<g id="e-k6"><circle class="Nk" cx="1123" cy="553" r="3.2"/></g>
<g id="e-k7"><circle class="Nk" cx="821" cy="566" r="3.2"/></g>
<g id="e-k8"><circle class="Nk" cx="1080" cy="576" r="3.2"/></g>
<g id="e-k9"><circle class="Nk" cx="867" cy="585" r="3.2"/></g>
<g id="e-k10"><circle class="Nk" cx="981" cy="578" r="3.2"/></g>
<g id="e-k11"><circle class="Nk" cx="847" cy="628" r="3.2"/></g>
<g id="e-k12"><circle class="Nk" cx="899" cy="630" r="3.2"/></g>
<g id="e-k13"><circle class="Nk" cx="955" cy="626" r="3.2"/></g>
<g id="e-k14"><circle class="Nk" cx="1008" cy="620" r="3.2"/></g>
<g id="e-k15"><circle class="Nk" cx="1054" cy="621" r="3.2"/></g>
<g id="e-k16"><circle class="Nk" cx="881" cy="678" r="3.2"/></g>
<g id="e-k17"><circle class="Nk" cx="931" cy="673" r="3.2"/></g>
<g id="e-k18"><circle class="Nk" cx="987" cy="668" r="3.2"/></g>
<g id="e-k19"><circle class="Nk" cx="1034" cy="675" r="3.2"/></g>
<g id="e-k20"><circle class="Nk" cx="968" cy="714" r="3.2"/></g>
<g id="e-k21"><circle class="Nk" cx="1016" cy="726" r="3.2"/></g>
<g id="e-k22"><circle class="Nk" cx="971" cy="761" r="3.2"/></g>
<g id="e-k23"><circle class="Nk" cx="919" cy="721" r="3.2"/></g>
<g id="e-ghana"><circle class="Ng" cx="1181" cy="637" r="3.5"/></g>
<g id="e-g1"><circle class="Ng" cx="1152" cy="595" r="3.2"/></g>
<g id="e-g2"><circle class="Ng" cx="1202" cy="589" r="3.2"/></g>
<g id="e-g3"><circle class="Ng" cx="1110" cy="618" r="3.2"/></g>
<g id="e-g4"><circle class="Ng" cx="1255" cy="600" r="3.2"/></g>
<g id="e-g5"><circle class="Ng" cx="1301" cy="613" r="3.2"/></g>
<g id="e-g6"><circle class="Ng" cx="1231" cy="642" r="3.2"/></g>
<g id="e-g7"><circle class="Ng" cx="1279" cy="664" r="3.2"/></g>
<g id="e-g8"><circle class="Ng" cx="1137" cy="663" r="3.2"/></g>
<g id="e-g9"><circle class="Ng" cx="1181" cy="689" r="3.2"/></g>
<g id="e-g10"><circle class="Ng" cx="1232" cy="690" r="3.2"/></g>
<g id="e-g11"><circle class="Ng" cx="1072" cy="712" r="3.2"/></g>
<g id="e-g12"><circle class="Ng" cx="1123" cy="712" r="3.2"/></g>
<g id="e-g13"><circle class="Ng" cx="1275" cy="719" r="3.2"/></g>
<g id="e-g14"><circle class="Ng" cx="1166" cy="736" r="3.2"/></g>
<g id="e-g15"><circle class="Ng" cx="1219" cy="736" r="3.2"/></g>
<g id="e-g16"><circle class="Ng" cx="1312" cy="754" r="3.2"/></g>
<g id="e-g17"><circle class="Ng" cx="1057" cy="758" r="3.2"/></g>
<g id="e-g18"><circle class="Ng" cx="1106" cy="762" r="3.2"/></g>
<g id="e-g19"><circle class="Ng" cx="1260" cy="769" r="3.2"/></g>
<g id="e-g20"><circle class="Ng" cx="1017" cy="786" r="3.2"/></g>
<g id="e-g21"><circle class="Ng" cx="1151" cy="782" r="3.2"/></g>
<g id="e-g22"><circle class="Ng" cx="1204" cy="782" r="3.2"/></g>
<g id="e-g23"><circle class="Ng" cx="1322" cy="800" r="3.2"/></g>
<g id="e-g24"><circle class="Ng" cx="1068" cy="807" r="3.2"/></g>
<g id="e-g25"><circle class="Ng" cx="1275" cy="815" r="3.2"/></g>
<g id="e-g26"><circle class="Ng" cx="1117" cy="820" r="3.2"/></g>
<g id="e-g27"><circle class="Ng" cx="1172" cy="827" r="3.2"/></g>
<g id="e-g28"><circle class="Ng" cx="1226" cy="824" r="3.2"/></g>
<g id="e-cameroon"><circle class="Nc" cx="1337" cy="569" r="3.5"/></g>
<g id="e-c1"><circle class="Nc" cx="1423" cy="529" r="3.2"/></g>
<g id="e-c2"><circle class="Nc" cx="1470" cy="530" r="3.2"/></g>
<g id="e-c3"><circle class="Nc" cx="1515" cy="515" r="3.2"/></g>
<g id="e-c4"><circle class="Nc" cx="1555" cy="538" r="3.2"/></g>
<g id="e-c5"><circle class="Nc" cx="1442" cy="579" r="3.2"/></g>
<g id="e-c6"><circle class="Nc" cx="1495" cy="573" r="3.2"/></g>
<g id="e-c7"><circle class="Nc" cx="1540" cy="586" r="3.2"/></g>
<g id="e-c8"><circle class="Nc" cx="1361" cy="614" r="3.2"/></g>
<g id="e-c9"><circle class="Nc" cx="1412" cy="622" r="3.2"/></g>
<g id="e-c10"><circle class="Nc" cx="1469" cy="622" r="3.2"/></g>
<g id="e-c11"><circle class="Nc" cx="1518" cy="631" r="3.2"/></g>
<g id="e-c12"><circle class="Nc" cx="1439" cy="663" r="3.2"/></g>
<g id="e-c13"><circle class="Nc" cx="1490" cy="674" r="3.2"/></g>
<g id="e-c14"><circle class="Nc" cx="1330" cy="653" r="3.2"/></g>
<g id="e-c15"><circle class="Nc" cx="1325" cy="701" r="3.2"/></g>
<g id="e-c16"><circle class="Nc" cx="1378" cy="667" r="3.2"/></g>
<g id="e-c17"><circle class="Nc" cx="1407" cy="703" r="3.2"/></g>
<g id="e-c18"><circle class="Nc" cx="1457" cy="715" r="3.2"/></g>
<g id="e-c19"><circle class="Nc" cx="1363" cy="728" r="3.2"/></g>
<g id="e-c20"><circle class="Nc" cx="1414" cy="753" r="3.2"/></g>
<g id="e-c21"><circle class="Nc" cx="1368" cy="777" r="3.2"/></g>
<g id="e-malawi"><circle class="Nm" cx="1310" cy="466" r="3.5"/></g>
<g id="e-m1"><circle class="Nm" cx="1304" cy="381" r="3.2"/></g>
<g id="e-m2"><circle class="Nm" cx="1332" cy="422" r="3.2"/></g>
<g id="e-m3"><circle class="Nm" cx="1384" cy="427" r="3.2"/></g>
<g id="e-m4"><circle class="Nm" cx="1432" cy="430" r="3.2"/></g>
<g id="e-m5"><circle class="Nm" cx="1476" cy="421" r="3.2"/></g>
<g id="e-m6"><circle class="Nm" cx="1522" cy="411" r="3.2"/></g>
<g id="e-m7"><circle class="Nm" cx="1564" cy="437" r="3.2"/></g>
<g id="e-m8"><circle class="Nm" cx="1511" cy="464" r="3.2"/></g>
<g id="e-m9"><circle class="Nm" cx="1361" cy="473" r="3.2"/></g>
<g id="e-m10"><circle class="Nm" cx="1413" cy="479" r="3.2"/></g>
<g id="e-m11"><circle class="Nm" cx="1463" cy="477" r="3.2"/></g>
<g id="e-m12"><circle class="Nm" cx="1561" cy="486" r="3.2"/></g>
<g id="e-m13"><circle class="Nm" cx="1373" cy="522" r="3.2"/></g>
<g id="e-m14"><circle class="Nm" cx="1273" cy="507" r="3.2"/></g>
<g id="e-m15"><circle class="Nm" cx="1287" cy="558" r="3.2"/></g>
<g id="e-m16"><circle class="Nm" cx="1323" cy="517" r="3.2"/></g>
<g id="e-m17"><circle class="Nm" cx="1390" cy="571" r="3.2"/></g>
<g id="e-sierra"><circle class="Ns" cx="1193" cy="457" r="3.5"/></g>
<g id="e-s1"><circle class="Ns" cx="1188" cy="367" r="3"/></g>
<g id="e-s2"><circle class="Ns" cx="1241" cy="379" r="3"/></g>
<g id="e-s3"><circle class="Ns" cx="1271" cy="343" r="3"/></g>
<g id="e-s4"><circle class="Ns" cx="1273" cy="421" r="3"/></g>
<g id="e-s5"><circle class="Ns" cx="1250" cy="462" r="3"/></g>
<g id="e-s6"><circle class="Ns" cx="1219" cy="505" r="3"/></g>
<g id="e-s7"><circle class="Ns" cx="1234" cy="549" r="3"/></g>
<g id="e-s8"><circle class="Ns" cx="1175" cy="543" r="3"/></g>
<g id="e-s9"><circle class="Ns" cx="1158" cy="413" r="3"/></g>
<g id="e-s10"><circle class="Ns" cx="1131" cy="371" r="3"/></g>
<g id="e-s11"><circle class="Ns" cx="1131" cy="457" r="3"/></g>
<g id="e-s12"><circle class="Ns" cx="1115" cy="506" r="3"/></g>
<g id="e-other1"><circle class="No" cx="1168" cy="494" r="3.2"/></g>
<g id="e-other2"><circle class="No" cx="1213" cy="417" r="3.2"/></g>
<g id="e-other3"><circle class="No" cx="1128" cy="287" r="3.2"/></g>
<g id="e-other4"><circle class="No" cx="925" cy="586" r="3.2"/></g>
<g id="e-other5"><circle class="No" cx="1085" cy="663" r="3.2"/></g>
</g>

<g id="legend">
<rect x="143" y="860" width="20" height="19" fill="#E08CFA"/><text class="lg" x="175" y="877">Nigeria</text>
<rect x="318" y="860" width="20" height="19" fill="#78C300"/><text class="lg" x="349" y="877">Ghana</text>
<rect x="492" y="860" width="20" height="19" fill="#33C3FF"/><text class="lg" x="523" y="877">Kenya</text>
<rect x="667" y="860" width="20" height="19" fill="#4B423A"/><text class="lg" x="698" y="877">Cameroon</text>
<rect x="841" y="860" width="20" height="19" fill="#FF8C00"/><text class="lg" x="872" y="877">Malawi</text>
<rect x="1016" y="860" width="20" height="19" fill="#FF5A8C"/><text class="lg" x="1047" y="877">Liberia</text>
<rect x="1191" y="860" width="20" height="19" fill="#2CBF8F"/><text class="lg" x="1222" y="877">Sierra Leone</text>
<rect x="1365" y="860" width="20" height="19" fill="#D4B4AE"/><text class="lg" x="1396" y="877">Other</text>
</g>
</svg>
